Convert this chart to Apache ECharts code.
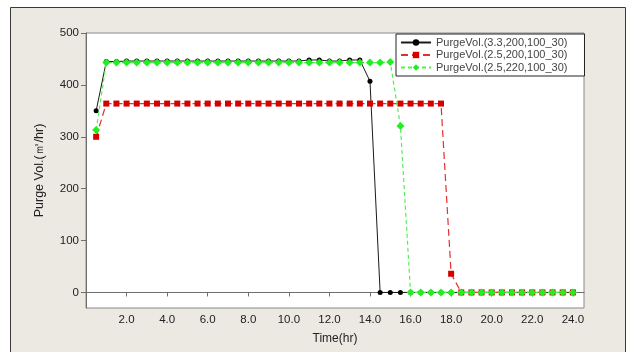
<!DOCTYPE html>
<html>
<head>
<meta charset="utf-8">
<script src="https://cdn.jsdelivr.net/npm/echarts@6/dist/echarts.min.js"></script>
<style>
  html, body { margin: 0; padding: 0; background: #ffffff; }
  #chart { width: 630px; height: 352px; }
</style>
</head>
<body>
<div id="chart"></div>
<script>
// Sampling times (hr)
const times = [0.5, 1.0, 1.5, 2.0, 2.5, 3.0, 3.5, 4.0, 4.5, 5.0, 5.5, 6.0, 6.5, 7.0, 7.5, 8.0,
  8.5, 9.0, 9.5, 10.0, 10.5, 11.0, 11.5, 12.0, 12.5, 13.0, 13.5, 14.0, 14.5, 15.0, 15.5, 16.0,
  16.5, 17.0, 17.5, 18.0, 18.5, 19.0, 19.5, 20.0, 20.5, 21.0, 21.5, 22.0, 22.5, 23.0, 23.5, 24.0];

// Purge volume (m3/hr) for each case
const purge_33_200 = [350, 445, 445, 446, 446, 446, 446, 446, 446, 446, 446, 446, 446, 446, 446, 446,
  446, 446, 446, 446, 446, 448, 448, 446, 446, 448, 448, 407, 0, 0, 0, 0,
  0, 0, 0, 0, 0, 0, 0, 0, 0, 0, 0, 0, 0, 0, 0, 0];
const purge_25_200 = [300, 364, 364, 364, 364, 364, 364, 364, 364, 364, 364, 364, 364, 364, 364, 364,
  364, 364, 364, 364, 364, 364, 364, 364, 364, 364, 364, 364, 364, 364, 364, 364,
  364, 364, 364, 36, 0, 0, 0, 0, 0, 0, 0, 0, 0, 0, 0, 0];
const purge_25_220 = [313, 443, 443, 443, 443, 443, 443, 443, 443, 443, 443, 443, 443, 443, 443, 443,
  443, 443, 443, 443, 443, 443, 443, 443, 443, 443, 443, 443, 443, 444, 321, 0,
  0, 0, 0, 0, 0, 0, 0, 0, 0, 0, 0, 0, 0, 0, 0, 0];

const seriesNames = ['PurgeVol.(3.3,200,100_30)', 'PurgeVol.(2.5,200,100_30)', 'PurgeVol.(2.5,220,100_30)'];

// Axis ticks
const xTicks = [2, 4, 6, 8, 10, 12, 14, 16, 18, 20, 22, 24];
const yTicks = [0, 100, 200, 300, 400, 500];

const pairs = vals => times.map((t, i) => [t, vals[i]]);

const chart = echarts.init(document.getElementById('chart'), null, { renderer: 'canvas' });
const textColor = '#222222';
const axisColor = '#6e6e6e';

chart.setOption({
  animation: false,
  backgroundColor: '#ffffff',
  textStyle: { fontFamily: 'Liberation Sans, Arial, sans-serif' },
  graphic: [{
    type: 'rect',
    z: -10,
    silent: true,
    shape: { x: 10.5, y: 7.5, width: 615, height: 360 },
    style: { fill: '#ece9e3', stroke: '#3a3a3a', lineWidth: 1 }
  }],
  grid: {
    left: 86, top: 33, right: 46, bottom: 44,
    show: true, backgroundColor: '#ffffff', borderColor: '#8a8a8a', borderWidth: 1
  },
  legend: {
    orient: 'vertical',
    left: 396, top: 34,
    padding: [3, 17, 3, 4],
    itemGap: 1.5,
    itemWidth: 30,
    itemHeight: 8,
    backgroundColor: '#ffffff',
    borderColor: '#222222',
    borderWidth: 1,
    borderRadius: 0,
    textStyle: { fontSize: 11, color: '#444444', padding: [0, 0, 0, 0], lineHeight: 11 },
    data: seriesNames
  },
  xAxis: {
    type: 'value',
    min: 0, max: 24.55,
    name: 'Time(hr)',
    nameLocation: 'middle',
    nameGap: 25,
    nameTextStyle: { fontSize: 12, color: textColor },
    axisLine: { show: true, lineStyle: { color: axisColor } },
    axisTick: { show: true, length: 4, inside: false, customValues: xTicks, lineStyle: { color: axisColor } },
    axisLabel: { customValues: xTicks, fontSize: 11.5, color: textColor, margin: 6,
      formatter: v => Number(v).toFixed(1) },
    splitLine: { show: false }
  },
  yAxis: {
    type: 'value',
    min: -30, max: 500,
    name: 'Purge Vol.(㎥/hr)',
    nameLocation: 'middle',
    nameGap: 40,
    nameRotate: 90,
    nameTextStyle: { fontSize: 12.5, color: textColor },
    axisLine: { show: true, lineStyle: { color: axisColor } },
    axisTick: { show: true, length: 5, inside: false, customValues: yTicks, lineStyle: { color: axisColor } },
    axisLabel: { customValues: yTicks, fontSize: 11.5, color: textColor, margin: 7,
      formatter: v => String(Math.round(v)) },
    splitLine: { show: false }
  },
  series: [
    {
      name: seriesNames[0],
      type: 'line',
      data: pairs(purge_33_200),
      symbol: 'circle',
      symbolSize: 5,
      itemStyle: { color: '#000000' },
      lineStyle: { color: '#1a1a1a', width: 1, type: 'solid' },
      z: 2
    },
    {
      name: seriesNames[1],
      type: 'line',
      data: pairs(purge_25_200),
      symbol: 'rect',
      symbolSize: 6,
      itemStyle: { color: '#d40000' },
      lineStyle: { color: '#e03030', width: 1.2, type: [7, 4] },
      z: 3
    },
    {
      name: seriesNames[2],
      type: 'line',
      data: pairs(purge_25_220),
      symbol: 'diamond',
      symbolSize: 8,
      itemStyle: { color: '#22ee22' },
      lineStyle: { color: '#55ee55', width: 1.2, type: [4, 3] },
      z: 4
    }
  ]
});
</script>
</body>
</html>
